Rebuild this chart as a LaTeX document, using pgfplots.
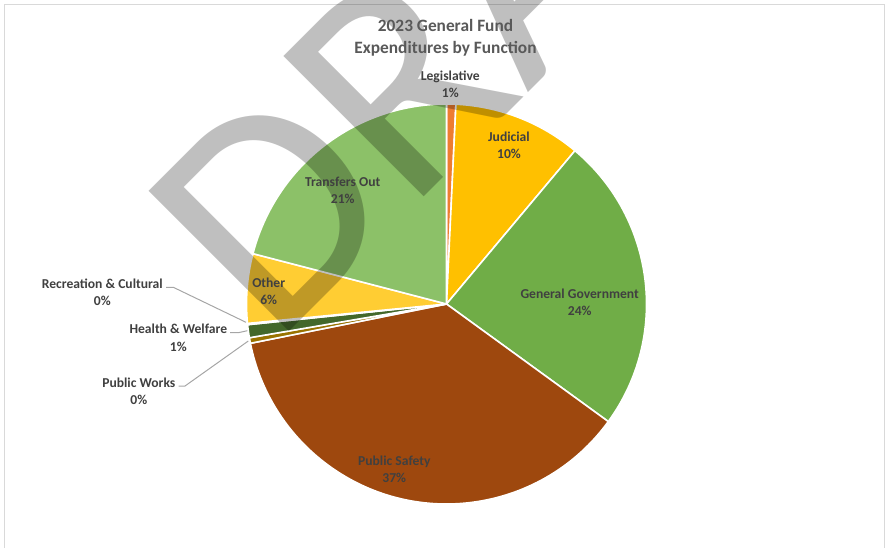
\documentclass[border=0pt]{standalone}
\usepackage{fontspec}
\setmainfont{Carlito}
\usepackage{pgfplots}
\usepackage{pgfplotstable}
\pgfplotsset{compat=1.18}
\definecolor{cLeg}{HTML}{ED7D31}
\definecolor{cJud}{HTML}{FFC000}
\definecolor{cGen}{HTML}{70AD47}
\definecolor{cPS}{HTML}{9E480E}
\definecolor{cPW}{HTML}{997300}
\definecolor{cHW}{HTML}{43682B}
\definecolor{cRC}{HTML}{F1975A}
\definecolor{cOth}{HTML}{FFCD33}
\definecolor{cTO}{HTML}{8CC168}
\definecolor{titlecol}{HTML}{595959}
\definecolor{labcol}{HTML}{404040}
\definecolor{leader}{HTML}{A6A6A6}
\definecolor{framecol}{HTML}{D9D9D9}
% share of each function, in percent, clockwise from 12 o'clock
\pgfplotstableread{
pct   col
0.75  cLeg
10.35 cJud
23.90 cGen
36.85 cPS
0.45  cPW
1.05  cHW
0.10  cRC
5.60  cOth
20.95 cTO
}\piedata
\begin{document}
\begin{tikzpicture}
\begin{scope}
\clip (0,0) rectangle (665.25pt,411pt);
\begin{axis}[
  hide axis, scale only axis,
  width=665.25pt, height=411pt,
  xmin=0, xmax=887, ymin=0, ymax=548, y dir=reverse,
  clip=false,
]
\addplot[draw=none, forget plot] coordinates {(0,0) (887,548)};
\pgfplotsextra{
  \draw[framecol, line width=0.75pt] (axis cs:4.5,4.5) rectangle (axis cs:884.5,600);
  \gdef\cumpct{0}
  \pgfplotstablegetrowsof{\piedata}
  \pgfmathtruncatemacro\lastrow{\pgfplotsretval-1}
  \foreach \i in {0,...,\lastrow}{
    \pgfplotstablegetelem{\i}{pct}\of\piedata \let\slicepct\pgfplotsretval
    \pgfplotstablegetelem{\i}{col}\of\piedata \let\slicecol\pgfplotsretval
    \pgfmathsetmacro\angA{90-3.6*\cumpct}
    \pgfmathsetmacro\angB{90-3.6*(\cumpct+\slicepct)}
    \fill[\slicecol, draw=white, line width=1.2pt, line join=round]
      (axis cs:446.5,304) -- ++(\angA:150pt) arc[start angle=\angA, end angle=\angB, radius=150pt] -- cycle;
    \pgfmathsetmacro\newcum{\cumpct+\slicepct}
    \xdef\cumpct{\newcum}
  }
  % watermark
  \node[anchor=base west, rotate=45, inner sep=0pt, text=black, text opacity=0.25,
        font=\fontsize{232}{232}\selectfont] at (axis cs:274,347) {DRAFT};
  % leader lines
  \draw[leader, line width=0.75pt] (axis cs:166,287.3) -- (axis cs:173.3,287.3) -- (axis cs:246,322.3);
  \draw[leader, line width=0.75pt] (axis cs:230,332.7) -- (axis cs:238.3,332.7) -- (axis cs:247.3,330.7);
  \draw[leader, line width=0.75pt] (axis cs:178.5,386) -- (axis cs:185,386) -- (axis cs:248.3,341);
}
% title
\node[font=\fontsize{13}{16.5}\selectfont\bfseries, text=titlecol, align=center] at (axis cs:445.5,37.5) {2023 General Fund\\Expenditures by Function};
% data labels
\tikzset{lab/.style={font=\fontsize{10.2}{13}\selectfont\bfseries, text=labcol, align=center, inner sep=0pt}}
\node[lab] at (axis cs:450.3,84.2) {Legislative\\1\%};
\node[lab] at (axis cs:509,145.3) {Judicial\\10\%};
\node[lab] at (axis cs:579.7,302.3) {General Government\\24\%};
\node[lab] at (axis cs:394.3,469.5) {Public Safety\\37\%};
\node[lab] at (axis cs:342.7,190.3) {Transfers Out\\21\%};
\node[lab] at (axis cs:268.7,291) {Other\\6\%};
\node[lab] at (axis cs:102.3,292.6) {Recreation \& Cultural\\0\%};
\node[lab] at (axis cs:178.3,337.8) {Health \& Welfare\\1\%};
\node[lab] at (axis cs:138.8,391.3) {Public Works\\0\%};
\end{axis}
\end{scope}
\pgfresetboundingbox
\path[use as bounding box] (0,0) rectangle (665.25pt,411pt);
\end{tikzpicture}
\end{document}
